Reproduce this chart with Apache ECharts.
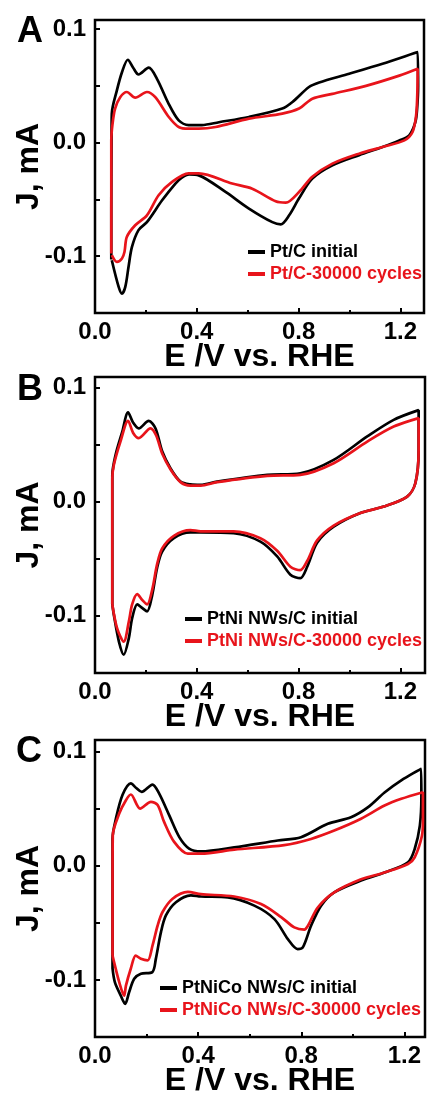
<!DOCTYPE html>
<html>
<head>
<meta charset="utf-8">
<script src="https://cdn.jsdelivr.net/npm/echarts@6/dist/echarts.min.js"></script>
<style>
  html, body { margin: 0; padding: 0; background: #fff; }
  #main { width: 427px; height: 1100px; }
</style>
</head>
<body>
<div id="main"></div>
<script>
// CV loops: [E (V vs RHE), J (mA)], anodic sweep then cathodic sweep
var ptcInitial = [[0.064,-0.103],[0.064,-0.06],[0.065,0.0],[0.066,0.0255],[0.086,0.046],[0.106,0.062],[0.129,0.073],[0.150,0.066],[0.171,0.060],[0.211,0.066],[0.244,0.056],[0.29,0.034],[0.329,0.0196],[0.368,0.0155],[0.42,0.0155],[0.487,0.018],[0.605,0.0226],[0.736,0.030],[0.776,0.0358],[0.841,0.049],[0.881,0.053],[0.999,0.0607],[1.130,0.0695],[1.268,0.0797],[1.270,0.05],[1.266,0.03],[1.259,0.018],[1.235,0.0064],[1.196,0.002],[1.130,-0.0038],[1.038,-0.011],[0.933,-0.020],[0.854,-0.0317],[0.802,-0.049],[0.763,-0.064],[0.730,-0.072],[0.697,-0.070],[0.605,-0.058],[0.513,-0.0434],[0.408,-0.0288],[0.37,-0.028],[0.34,-0.031],[0.316,-0.036],[0.263,-0.051],[0.204,-0.070],[0.171,-0.077],[0.145,-0.092],[0.132,-0.109],[0.119,-0.127],[0.106,-0.133],[0.093,-0.127],[0.066,-0.1035]];
var ptc30k = [[0.064,-0.0976],[0.064,-0.05],[0.064,0.002],[0.069,0.0167],[0.079,0.030],[0.099,0.040],[0.125,0.0446],[0.158,0.0396],[0.204,0.0446],[0.237,0.040],[0.29,0.0226],[0.329,0.0138],[0.368,0.0123],[0.408,0.0123],[0.474,0.0138],[0.605,0.0211],[0.736,0.0255],[0.802,0.030],[0.854,0.0387],[0.933,0.043],[1.065,0.050],[1.196,0.059],[1.268,0.065],[1.267,0.045],[1.262,0.024],[1.248,0.0094],[1.216,0.002],[1.130,-0.0038],[1.038,-0.0097],[0.933,-0.0185],[0.854,-0.030],[0.802,-0.0434],[0.750,-0.0528],[0.710,-0.0516],[0.618,-0.0405],[0.539,-0.036],[0.408,-0.027],[0.368,-0.027],[0.303,-0.0346],[0.250,-0.0463],[0.204,-0.064],[0.158,-0.0727],[0.125,-0.083],[0.116,-0.096],[0.106,-0.102],[0.086,-0.105],[0.066,-0.099]];

var ptniInitial = [[0.068,-0.090],[0.068,-0.03],[0.068,0.023],[0.081,0.041],[0.107,0.061],[0.130,0.078],[0.150,0.069],[0.172,0.064],[0.211,0.0706],[0.238,0.064],[0.264,0.044],[0.297,0.029],[0.336,0.0175],[0.375,0.015],[0.415,0.0146],[0.48,0.0175],[0.677,0.0234],[0.807,0.0248],[0.938,0.0365],[1.070,0.057],[1.174,0.0715],[1.272,0.080],[1.272,0.045],[1.259,0.016],[1.227,0.0044],[1.135,-0.0044],[1.043,-0.010],[0.938,-0.022],[0.873,-0.036],[0.834,-0.057],[0.807,-0.067],[0.768,-0.064],[0.716,-0.048],[0.650,-0.035],[0.545,-0.0277],[0.415,-0.027],[0.375,-0.027],[0.31,-0.032],[0.264,-0.0437],[0.244,-0.058],[0.225,-0.0816],[0.205,-0.096],[0.185,-0.093],[0.166,-0.090],[0.146,-0.102],[0.133,-0.1195],[0.113,-0.134],[0.094,-0.1225],[0.074,-0.099],[0.068,-0.090]];
var ptni30k = [[0.068,-0.090],[0.068,-0.03],[0.068,0.02],[0.074,0.032],[0.1,0.0525],[0.130,0.0706],[0.150,0.060],[0.172,0.0555],[0.218,0.064],[0.240,0.058],[0.264,0.042],[0.297,0.028],[0.336,0.017],[0.375,0.014],[0.415,0.014],[0.48,0.017],[0.677,0.0225],[0.807,0.0234],[0.938,0.0336],[1.070,0.0525],[1.174,0.0656],[1.272,0.073],[1.272,0.045],[1.259,0.016],[1.227,0.0044],[1.135,-0.0044],[1.043,-0.010],[0.938,-0.021],[0.873,-0.034],[0.834,-0.052],[0.807,-0.060],[0.768,-0.057],[0.716,-0.043],[0.650,-0.032],[0.545,-0.026],[0.415,-0.026],[0.375,-0.025],[0.31,-0.030],[0.264,-0.041],[0.244,-0.055],[0.225,-0.077],[0.205,-0.090],[0.185,-0.086],[0.166,-0.081],[0.146,-0.09],[0.133,-0.105],[0.113,-0.1225],[0.087,-0.111],[0.068,-0.090]];

var ptnicoInitial = [[0.068,-0.090],[0.068,-0.03],[0.068,0.0237],[0.081,0.041],[0.107,0.062],[0.139,0.072],[0.160,0.068],[0.181,0.0646],[0.223,0.071],[0.249,0.063],[0.288,0.044],[0.327,0.025],[0.365,0.015],[0.411,0.0125],[0.54,0.016],[0.709,0.022],[0.799,0.0249],[0.903,0.0366],[0.993,0.0424],[1.058,0.051],[1.123,0.064],[1.188,0.0746],[1.265,0.0848],[1.266,0.06],[1.26,0.035],[1.24,0.0146],[1.214,0.003],[1.123,-0.006],[1.032,-0.013],[0.928,-0.0234],[0.877,-0.035],[0.838,-0.0526],[0.806,-0.0716],[0.786,-0.073],[0.748,-0.0643],[0.696,-0.0468],[0.618,-0.035],[0.515,-0.0278],[0.411,-0.027],[0.372,-0.026],[0.314,-0.032],[0.275,-0.0436],[0.256,-0.058],[0.236,-0.0816],[0.223,-0.093],[0.178,-0.0947],[0.152,-0.099],[0.132,-0.111],[0.117,-0.121],[0.1,-0.1138],[0.077,-0.102],[0.068,-0.090]];
var ptnico30k = [[0.068,-0.0787],[0.068,-0.02],[0.069,0.0266],[0.094,0.0456],[0.12,0.0573],[0.139,0.0623],[0.175,0.050],[0.217,0.0559],[0.243,0.053],[0.268,0.0383],[0.307,0.0208],[0.36,0.0105],[0.411,0.0105],[0.54,0.014],[0.734,0.018],[0.838,0.0234],[0.928,0.0307],[1.032,0.041],[1.123,0.0526],[1.188,0.0585],[1.272,0.0643],[1.272,0.04],[1.268,0.026],[1.24,0.0073],[1.214,0.0015],[1.123,-0.006],[1.032,-0.012],[0.928,-0.0234],[0.864,-0.0366],[0.826,-0.0526],[0.812,-0.056],[0.773,-0.054],[0.722,-0.045],[0.644,-0.0336],[0.54,-0.027],[0.411,-0.025],[0.36,-0.023],[0.301,-0.029],[0.262,-0.0406],[0.243,-0.0524],[0.223,-0.070],[0.204,-0.083],[0.178,-0.0816],[0.158,-0.0787],[0.139,-0.090],[0.12,-0.105],[0.113,-0.1138],[0.094,-0.102],[0.074,-0.0845],[0.068,-0.0787]];

var panelLetters = ['A', 'B', 'C'];
var seriesNames = [
  ['Pt/C initial', 'Pt/C-30000 cycles'],
  ['PtNi NWs/C initial', 'PtNi NWs/C-30000 cycles'],
  ['PtNiCo NWs/C initial', 'PtNiCo NWs/C-30000 cycles']
];
var seriesData = [[ptcInitial, ptc30k], [ptniInitial, ptni30k], [ptnicoInitial, ptnico30k]];
var xTickLabels = ['0.0', '0.4', '0.8', '1.2'];
var yTickLabels = ['-0.1', '0.0', '0.1'];

var FONT = '"Liberation Sans", Arial, Helvetica, sans-serif';
var RED = '#e8141b';

// layout of the three stacked panels
var panels = [
  {left: 95, top: 20,  width: 329, height: 293, xMax: 1.293, yMax: 0.108, legLeft: 243, legTop: 238, letterX: 30, letterY: 32},
  {left: 95, top: 377, width: 330, height: 296, xMax: 1.297, yMax: 0.109, legLeft: 180, legTop: 605, letterX: 30, letterY: 390},
  {left: 95, top: 740, width: 330, height: 297, xMax: 1.28,  yMax: 0.11,  legLeft: 155, legTop: 974, letterX: 29, letterY: 752}
];

function tickFormatter(list) {
  return function (v) {
    var s = Math.abs(v) < 1e-9 ? '0.0' : v.toFixed(1);
    return (list.indexOf(s) >= 0 && Math.abs(v - parseFloat(s)) < 1e-6) ? s : '';
  };
}

var tickLine = {color: '#000', width: 2};
var labelStyle = {fontSize: 24, fontWeight: 'bold', color: '#000', fontFamily: FONT};
var nameStyle = {fontSize: 32, fontWeight: 'bold', color: '#000', fontFamily: FONT};

var option = {animation: false, grid: [], xAxis: [], yAxis: [], series: [], legend: [], graphic: []};

panels.forEach(function (p, i) {
  option.grid.push({left: p.left, top: p.top, width: p.width, height: p.height,
    containLabel: false, outerBoundsMode: 'none',
    show: true, borderColor: '#000', borderWidth: 2.5, backgroundColor: 'transparent'});
  option.xAxis.push({
    gridIndex: i, type: 'value', position: 'bottom', min: 0, max: p.xMax, interval: 0.4,
    name: 'E /V vs. RHE', nameLocation: 'middle', nameGap: 28, nameMoveOverlap: false, nameTextStyle: nameStyle,
    axisLine: {show: false, onZero: false}, splitLine: {show: false},
    axisTick: {inside: true, length: 5, lineStyle: tickLine},
    axisLabel: Object.assign({margin: 7, formatter: tickFormatter(xTickLabels)}, labelStyle)
  });
  // minor ticks every 0.2
  option.xAxis.push({
    gridIndex: i, type: 'value', position: 'bottom', min: 0, max: p.xMax, interval: 0.2,
    axisLine: {show: false, onZero: false}, splitLine: {show: false}, axisLabel: {show: false},
    axisTick: {inside: true, length: 3, lineStyle: tickLine}
  });
  option.yAxis.push({
    gridIndex: i, type: 'value', position: 'left', min: -0.15, max: p.yMax, interval: 0.05,
    name: 'J, mA', nameLocation: 'middle', nameRotate: 90, nameGap: 50, nameMoveOverlap: false, nameTextStyle: nameStyle,
    axisLine: {show: false, onZero: false}, splitLine: {show: false},
    axisTick: {inside: true, length: 5, lineStyle: tickLine},
    axisLabel: Object.assign({margin: 9, formatter: tickFormatter(yTickLabels)}, labelStyle)
  });
  [0, 1].forEach(function (k) {
    option.series.push({
      name: seriesNames[i][k], type: 'line', xAxisIndex: 2 * i, yAxisIndex: i,
      data: seriesData[i][k], showSymbol: false, smooth: 0.3,
      lineStyle: {width: 2.7, color: k === 0 ? '#000' : RED},
      itemStyle: {color: k === 0 ? '#000' : RED},
      z: 2 + k
    });
  });
  option.legend.push({
    orient: 'vertical', left: p.legLeft, top: p.legTop, icon: 'rect',
    itemWidth: 17, itemHeight: 4, itemGap: 4, selectedMode: false,
    textStyle: {fontSize: 18, fontWeight: 'bold', color: '#000', fontFamily: FONT},
    data: [{name: seriesNames[i][0]}, {name: seriesNames[i][1], textStyle: {color: RED}}]
  });
  option.graphic.push({
    type: 'text', x: p.letterX, y: p.letterY,
    style: {text: panelLetters[i], font: 'bold 36px ' + FONT, fill: '#000', align: 'center', verticalAlign: 'middle'}
  });
});

var chart = echarts.init(document.getElementById('main'));
chart.setOption(option);
</script>
</body>
</html>
